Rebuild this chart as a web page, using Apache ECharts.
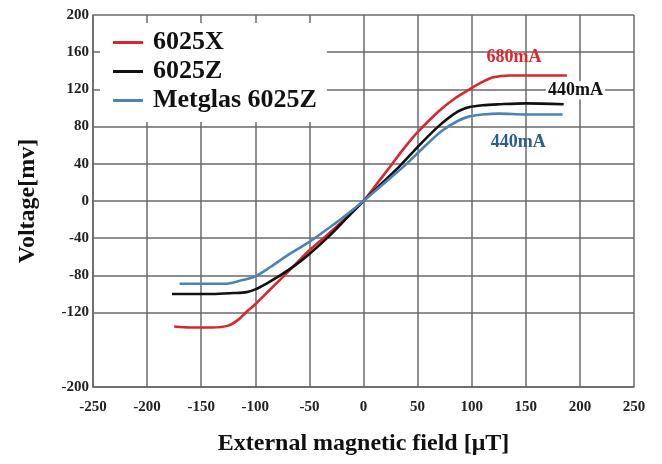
<!DOCTYPE html>
<html>
<head>
<meta charset="utf-8">
<script src="https://cdn.jsdelivr.net/npm/echarts@6/dist/echarts.min.js"></script>
<style>
html,body{margin:0;padding:0;background:#fff;}
#chart{width:662px;height:464px;}
</style>
</head>
<body>
<div id="chart"></div>
<script>
// ---- data ----
var seriesNames = ['6025X', '6025Z', 'Metglas 6025Z'];
var yTickValues = [200, 160, 120, 80, 40, 0, -40, -80, -120, -200];
var xTickValues = [-250, -200, -150, -100, -50, 0, 50, 100, 150, 200, 250];

var red6025X = [
  [-175, -135], [-160, -136], [-140, -136], [-125, -134], [-115, -127],
  [-108, -119], [-100, -111], [-87, -96], [-74, -81], [-62, -67],
  [-50, -53], [-32, -35], [-16, -18], [0, 0], [12, 18], [24, 36],
  [37, 56], [50, 74], [69, 96], [84, 110], [98, 120], [110, 128],
  [120, 133], [135, 135], [160, 135], [188, 135]
];
var black6025Z = [
  [-177, -100], [-160, -100], [-140, -100], [-120, -99], [-108, -98],
  [-100, -95], [-90, -89], [-77, -80], [-63, -69], [-50, -57],
  [-32, -38], [-16, -19], [0, 0], [16, 18], [33, 37], [50, 58],
  [69, 80], [87, 96], [98, 101], [110, 103], [125, 104], [150, 105], [185, 104]
];
var blueMetglas = [
  [-170, -89], [-150, -89], [-128, -89], [-115, -86], [-100, -81],
  [-86, -71], [-71, -59], [-50, -44], [-32, -29], [-16, -15],
  [0, 0], [18, 18], [38, 38], [55, 57], [72, 75], [87, 86],
  [98, 91], [110, 93], [125, 94], [150, 93], [184, 93]
];
var annotationTexts = ['680mA', '440mA', '440mA'];
var annotationCoords = [[139, 154], [196, 119], [143, 63]];

// ---- chart ----
var FONT = '"Liberation Serif", "Times New Roman", serif';
var colors = ['#d8272f', '#111111', '#4a84b6'];
var labelColors = ['#e0262c', '#111111', '#2b5d8e'];

var chart = echarts.init(document.getElementById('chart'), null, {renderer: 'canvas'});

function makeSeries(i, data) {
  return {
    name: seriesNames[i],
    type: 'line',
    data: data,
    smooth: 0.3,
    symbol: 'none',
    lineStyle: {color: colors[i], width: 2.6},
    itemStyle: {color: colors[i]},
    z: 3 + i,
    markPoint: {
      symbol: 'circle',
      symbolSize: 0,
      silent: true,
      data: [{
        coord: annotationCoords[i],
        label: {
          show: true,
          position: 'inside',
          formatter: annotationTexts[i],
          color: labelColors[i],
          fontFamily: FONT,
          fontWeight: 'bold',
          fontSize: 18,
          backgroundColor: i === 1 ? '#ffffff' : 'transparent',
          padding: i === 1 ? [0, 2] : 0
        }
      }]
    }
  };
}

var option = {
  backgroundColor: '#ffffff',
  animation: false,
  grid: {left: 93, right: 28, top: 15, bottom: 77, containLabel: false},
  legend: {
    orient: 'vertical',
    left: 100,
    top: 23,
    padding: [6, 10, 8, 13],
    backgroundColor: '#ffffff',
    itemGap: 2,
    itemWidth: 30,
    itemHeight: 3,
    icon: 'rect',
    z: 10,
    textStyle: {
      fontFamily: FONT,
      fontWeight: 'bold',
      fontSize: 26,
      lineHeight: 27,
      color: '#111',
      padding: [0, 0, 0, 5]
    },
    data: seriesNames
  },
  xAxis: {
    type: 'value',
    min: -250,
    max: 250,
    interval: 50,
    name: 'External magnetic field [\u03bcT]',
    nameLocation: 'middle',
    nameGap: 45,
    nameTextStyle: {fontFamily: FONT, fontWeight: 'bold', fontSize: 24, color: '#111'},
    axisLine: {show: true, onZero: false, lineStyle: {color: '#666', width: 1.5}},
    axisTick: {show: false},
    axisLabel: {
      fontFamily: FONT, fontWeight: 'bold', fontSize: 15, color: '#222', margin: 13,
      showMinLabel: true, showMaxLabel: true
    },
    splitLine: {show: true, lineStyle: {color: '#6a6a6a', width: 1.5}}
  },
  yAxis: {
    type: 'value',
    min: -200,
    max: 200,
    interval: 40,
    name: 'Voltage[mv]',
    nameLocation: 'middle',
    nameGap: 53,
    nameTextStyle: {fontFamily: FONT, fontWeight: 'bold', fontSize: 24, color: '#111'},
    axisLine: {show: true, onZero: false, lineStyle: {color: '#666', width: 1.5}},
    axisTick: {show: false, customValues: yTickValues},
    axisLabel: {
      fontFamily: FONT, fontWeight: 'bold', fontSize: 15, color: '#222', margin: 4,
      customValues: yTickValues
    },
    splitLine: {show: true, lineStyle: {color: '#6a6a6a', width: 1.5}}
  },
  series: [
    makeSeries(0, red6025X),
    makeSeries(1, black6025Z),
    makeSeries(2, blueMetglas)
  ]
};
chart.setOption(option);
</script>
</body>
</html>
